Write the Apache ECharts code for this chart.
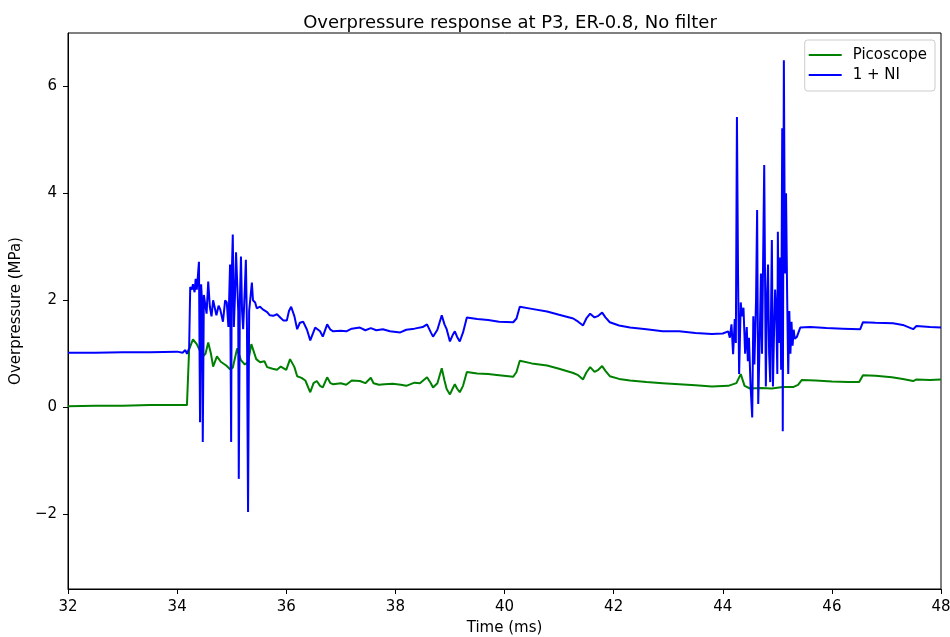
<!DOCTYPE html>
<html>
<head>
<meta charset="utf-8">
<script src="https://cdn.jsdelivr.net/npm/echarts@6/dist/echarts.min.js"></script>
<style>
  html, body { margin: 0; padding: 0; background: #fff; }
  #main { width: 950px; height: 637px; }
</style>
</head>
<body>
<div id="main"></div>
<script>
// time (ms) / overpressure (MPa)
const picoTime = [32.0, 32.5, 33.0, 33.5, 34.0, 34.18, 34.22, 34.29, 34.36, 34.42, 34.47, 34.52, 34.57, 34.62, 34.66, 34.73, 34.8, 34.9, 34.97, 35.02,
    35.1, 35.17, 35.24, 35.3, 35.36, 35.45, 35.52, 35.6, 35.65, 35.75, 35.83, 35.9, 36.0, 36.07, 36.15, 36.2, 36.28, 36.35, 36.44, 36.5,
    36.56, 36.62, 36.67, 36.75, 36.81, 36.86, 37.0, 37.1, 37.2, 37.35, 37.45, 37.55, 37.6, 37.7, 37.8, 37.95, 38.1, 38.2, 38.35, 38.45,
    38.58, 38.65, 38.69, 38.77, 38.85, 38.9, 38.94, 39.0, 39.05, 39.09, 39.13, 39.18, 39.24, 39.31, 39.5, 39.7, 39.9, 40.16, 40.22, 40.28,
    40.5, 40.78, 41.0, 41.26, 41.35, 41.44, 41.5, 41.57, 41.65, 41.72, 41.79, 41.85, 41.93, 42.1, 42.3, 42.6, 42.9, 43.2, 43.5, 43.8,
    44.1, 44.25, 44.33, 44.4, 44.5, 44.7, 44.9, 45.1, 45.3, 45.38, 45.45, 45.7, 46.0, 46.3, 46.5, 46.57, 46.8, 47.1, 47.3, 47.49,
    47.55, 47.8, 48.0];
const picoVals = [0.02, 0.03, 0.03, 0.04, 0.04, 0.04, 1.08, 1.27, 1.18, 1.05, 0.95, 1.0, 1.21, 1.0, 0.76, 0.95, 0.85, 0.78, 0.71, 0.74,
    1.1, 0.88, 0.8, 0.84, 1.18, 0.9, 0.84, 0.86, 0.75, 0.72, 0.7, 0.76, 0.7, 0.9, 0.75, 0.58, 0.55, 0.5, 0.28, 0.45,
    0.49, 0.4, 0.37, 0.56, 0.45, 0.43, 0.45, 0.42, 0.5, 0.49, 0.45, 0.55, 0.45, 0.42, 0.43, 0.44, 0.42, 0.4, 0.46, 0.45,
    0.56, 0.45, 0.37, 0.45, 0.73, 0.5, 0.34, 0.24, 0.35, 0.43, 0.35, 0.28, 0.4, 0.66, 0.63, 0.62, 0.6, 0.57, 0.66, 0.87,
    0.82, 0.78, 0.72, 0.64, 0.6, 0.52, 0.65, 0.75, 0.66, 0.7, 0.77, 0.68, 0.58, 0.53, 0.5, 0.47, 0.45, 0.43, 0.41, 0.39,
    0.4, 0.45, 0.62, 0.4, 0.35, 0.36, 0.35, 0.38, 0.38, 0.42, 0.51, 0.5, 0.48, 0.47, 0.47, 0.6, 0.59, 0.56, 0.53, 0.49,
    0.52, 0.51, 0.52];

const niTime = [32.0, 32.5, 33.0, 33.5, 34.0, 34.1, 34.15, 34.18, 34.22, 34.24, 34.27, 34.29, 34.32, 34.34, 34.36, 34.38, 34.40, 34.42, 34.44, 34.46,
    34.47, 34.49, 34.51, 34.54, 34.57, 34.6, 34.63, 34.66, 34.69, 34.72, 34.76, 34.79, 34.84, 34.88, 34.91, 34.94, 34.97, 34.99, 35.0, 35.02,
    35.04, 35.06, 35.08, 35.10, 35.12, 35.13, 35.15, 35.17, 35.19, 35.21, 35.24, 35.26, 35.28, 35.30, 35.32, 35.34, 35.37, 35.39, 35.43, 35.46,
    35.52, 35.57, 35.65, 35.7, 35.76, 35.83, 35.89, 35.95, 36.01, 36.05, 36.09, 36.15, 36.2, 36.25, 36.31, 36.38, 36.44, 36.47, 36.53, 36.56,
    36.62, 36.67, 36.75, 36.81, 36.86, 37.0, 37.1, 37.2, 37.35, 37.45, 37.55, 37.65, 37.77, 37.9, 38.09, 38.2, 38.35, 38.5, 38.58, 38.65,
    38.69, 38.77, 38.85, 38.9, 38.94, 39.0, 39.05, 39.09, 39.13, 39.18, 39.24, 39.31, 39.5, 39.7, 39.9, 40.16, 40.22, 40.28, 40.5, 40.78,
    41.0, 41.26, 41.35, 41.44, 41.5, 41.57, 41.65, 41.72, 41.79, 41.85, 41.93, 42.1, 42.3, 42.6, 42.9, 43.2, 43.5, 43.8, 44.0, 44.1,
    44.13, 44.16, 44.19, 44.22, 44.24, 44.26, 44.28, 44.30, 44.33, 44.35, 44.38, 44.41, 44.44, 44.46, 44.48, 44.51, 44.54, 44.56, 44.58, 44.61,
    44.63, 44.65, 44.68, 44.7, 44.72, 44.76, 44.79, 44.81, 44.83, 44.85, 44.87, 44.9, 44.92, 44.94, 44.96, 44.98, 45.0, 45.01, 45.03, 45.05,
    45.07, 45.09, 45.10, 45.12, 45.14, 45.16, 45.18, 45.20, 45.22, 45.24, 45.26, 45.28, 45.30, 45.32, 45.36, 45.42, 45.6, 45.9, 46.2, 46.52,
    46.57, 46.8, 47.12, 47.3, 47.49, 47.55, 47.8, 48.0];
const niVals = [1.02, 1.02, 1.03, 1.03, 1.04, 1.02, 1.07, 1.0, 1.1, 2.25, 2.2, 2.3, 2.15, 2.4, 2.2, 2.45, 2.72, -0.28, 2.3, 1.9,
    -0.65, 2.1, 2.07, 1.75, 2.35, 1.88, 1.7, 2.0, 1.98, 1.72, 1.9, 1.83, 1.6, 2.0, 1.96, 1.5, 2.67, -0.65, 2.4, 3.23,
    1.5, 2.07, 2.9, 2.89, 1.8, -1.34, 2.0, 2.82, 1.8, 1.46, 2.2, 2.76, 1.5, -1.96, 1.8, 1.77, 2.33, 2.0, 1.96, 1.85,
    1.88, 1.83, 1.78, 1.72, 1.71, 1.74, 1.68, 1.62, 1.62, 1.8, 1.88, 1.7, 1.46, 1.58, 1.6, 1.45, 1.25, 1.23, 1.49, 1.5,
    1.42, 1.32, 1.55, 1.45, 1.42, 1.43, 1.42, 1.47, 1.49, 1.44, 1.48, 1.44, 1.46, 1.42, 1.4, 1.45, 1.47, 1.5, 1.55, 1.4,
    1.32, 1.45, 1.72, 1.55, 1.46, 1.23, 1.35, 1.42, 1.32, 1.23, 1.4, 1.68, 1.65, 1.63, 1.6, 1.59, 1.66, 1.88, 1.84, 1.79,
    1.73, 1.66, 1.6, 1.53, 1.66, 1.75, 1.68, 1.71, 1.77, 1.68, 1.59, 1.53, 1.49, 1.46, 1.42, 1.42, 1.39, 1.37, 1.38, 1.42,
    1.3, 1.55, 0.99, 1.65, 1.2, 5.43, 2.5, 0.62, 1.96, 1.7, 1.86, 1.0, 1.5, 0.86, 1.3, 0.4, -0.19, 1.7, 0.8, 2.0,
    3.69, 0.06, 1.4, 2.5, 1.0, 4.53, 0.39, 2.0, 2.67, 1.0, 0.47, 3.13, 0.39, 1.4, 2.2, 1.8, 0.62, 3.28, 1.2, 2.8,
    0.7, 5.22, -0.45, 6.49, 2.5, 4.0, 2.1, 0.62, 1.8, 1.0, 1.6, 1.15, 1.45, 1.28, 1.32, 1.49, 1.5, 1.48, 1.47, 1.46,
    1.59, 1.58, 1.57, 1.54, 1.46, 1.52, 1.5, 1.49];

const yTicks = [-2, 0, 2, 4, 6];

const font = 'DejaVu Sans';
const chart = echarts.init(document.getElementById('main'), null, { renderer: 'canvas' });

function pairs(xs, ys) {
    return xs.map((x, i) => [x, ys[i]]);
}

const option = {
    backgroundColor: '#ffffff',
    animation: false,
    title: {
        text: 'Overpressure response at P3, ER-0.8, No filter',
        left: 505,
        top: 9,
        textAlign: 'center',
        textStyle: { fontFamily: font, fontSize: 18, fontWeight: 'normal', color: '#000' }
    },
    legend: {
        orient: 'vertical',
        right: 15,
        top: 40,
        icon: 'rect',
        itemWidth: 33,
        itemHeight: 2,
        itemGap: 4,
        padding: [7, 8, 8, 4],
        borderColor: '#cccccc',
        borderWidth: 1,
        borderRadius: 3,
        backgroundColor: '#ffffff',
        textStyle: { fontFamily: font, fontSize: 15, color: '#000', padding: [0, 0, 0, 6], lineHeight: 16 },
        data: ['Picoscope', '1 + NI']
    },
    grid: {
        left: 68,
        right: 9,
        top: 33,
        bottom: 48,
        show: true,
        borderColor: '#000',
        borderWidth: 1,
        containLabel: false,
        outerBoundsMode: 'none'
    },
    xAxis: {
        type: 'value',
        min: 32,
        max: 48,
        interval: 2,
        name: 'Time (ms)',
        nameLocation: 'middle',
        nameGap: 32,
        nameTextStyle: { fontFamily: font, fontSize: 15, color: '#000' },
        axisLine: { show: true, onZero: false, lineStyle: { color: '#000', width: 1 } },
        axisTick: { show: true, length: 5, lineStyle: { color: '#000' } },
        axisLabel: { fontFamily: font, fontSize: 15, color: '#000', margin: 11 },
        splitLine: { show: false }
    },
    yAxis: {
        type: 'value',
        min: -3.4,
        max: 7.0,
        name: 'Overpressure (MPa)',
        nameLocation: 'middle',
        nameGap: 39,
        nameTextStyle: { fontFamily: font, fontSize: 15, color: '#000' },
        axisLine: { show: true, onZero: false, lineStyle: { color: '#000', width: 1 } },
        axisTick: { show: true, length: 5, lineStyle: { color: '#000' }, customValues: yTicks },
        axisLabel: {
            fontFamily: font, fontSize: 15, color: '#000', margin: 11,
            customValues: yTicks,
            formatter: v => (v < 0 ? '\u2212' + Math.abs(v) : String(v))
        },
        splitLine: { show: false }
    },
    series: [
        {
            name: 'Picoscope',
            type: 'line',
            data: pairs(picoTime, picoVals),
            showSymbol: false,
            symbol: 'none',
            color: '#008000',
            lineStyle: { color: '#008000', width: 2 },
            z: 2
        },
        {
            name: '1 + NI',
            type: 'line',
            data: pairs(niTime, niVals),
            showSymbol: false,
            symbol: 'none',
            color: '#0000ff',
            lineStyle: { color: '#0000ff', width: 2 },
            z: 3
        }
    ]
};

chart.setOption(option);
</script>
</body>
</html>
